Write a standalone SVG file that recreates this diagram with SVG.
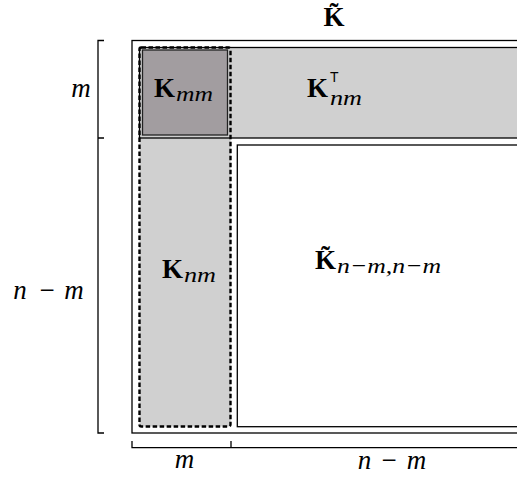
<svg xmlns="http://www.w3.org/2000/svg" width="517" height="477" viewBox="0 0 517 477">
<style>
.ln{fill:none;stroke:#000;stroke-width:1.3}
.K{font-family:"Liberation Serif","DejaVu Serif",serif;font-weight:bold;font-size:27px}
.mi{font-family:"Liberation Serif","DejaVu Serif",serif;font-style:italic;font-weight:normal;font-size:27px}
.op{font-family:"Liberation Serif","DejaVu Serif",serif;font-style:normal;font-weight:normal;font-size:27px}
.sub{font-family:"Liberation Serif","DejaVu Serif",serif;font-style:italic;font-weight:normal;font-size:22px}
.sup{font-family:"Liberation Sans","DejaVu Sans",sans-serif;font-weight:normal;font-size:14px}
text{fill:#000}
</style>
<rect width="517" height="477" fill="#fff"/>
<g id="matrix">
<rect class="ln" x="132" y="40.5" width="400" height="392.5"/>
</g>
<g id="Knm-band">
<rect x="139.5" y="47.5" width="91" height="379" rx="2" fill="#d0d0d0"/>
</g>
<g id="KnmT-band">
<rect x="139.5" y="47.5" width="400" height="90.5" fill="#d0d0d0" stroke="#000" stroke-width="1.3"/>
</g>
<g id="Kmm">
<rect x="142.5" y="50" width="85" height="85" fill="#a29da0" stroke="#222" stroke-width="1.3"/>
<text class="K" x="154" y="97">K</text>
<text class="sub" x="176" y="101" textLength="37" lengthAdjust="spacingAndGlyphs">mm</text>
</g>
<g id="Knm-outline">
<rect x="139.5" y="47.5" width="91" height="379" rx="2" fill="none" stroke="#000" stroke-width="2.4" stroke-dasharray="4.5 2.5"/>
<text class="K" x="162" y="278">K</text>
<text class="sub" x="184" y="282" textLength="32" lengthAdjust="spacingAndGlyphs">nm</text>
</g>
<g id="KnmT">
<text class="K" x="307" y="97">K</text>
<text class="sup" x="330" y="82">T</text>
<text class="sub" x="330" y="105" textLength="32" lengthAdjust="spacingAndGlyphs">nm</text>
</g>
<g id="Kres">
<rect class="ln" x="237.3" y="145" width="300" height="281.7" fill="#fff"/>
<text class="K" x="315" y="269">K&#x0303;</text>
<text class="sub" x="337" y="273" textLength="104" lengthAdjust="spacingAndGlyphs">n−m,n−m</text>
</g>
<g id="title">
<text class="K" x="334" y="26" text-anchor="middle">K&#x0303;</text>
</g>
<g id="connectors">
<path class="ln" d="M104 40.5H98V433H104M98 138H104"/>
<path class="ln" d="M132 441V447.7H517M231 441V447.7"/>
</g>
<g id="labels">
<text class="mi" x="81" y="97" text-anchor="middle">m</text>
<text x="0" y="299"><tspan class="mi" x="20" text-anchor="middle">n</tspan><tspan class="op" x="47" text-anchor="middle">−</tspan><tspan class="mi" x="74" text-anchor="middle">m</tspan></text>
<text class="mi" x="184.5" y="468" text-anchor="middle">m</text>
<text x="0" y="469"><tspan class="mi" x="364.5" text-anchor="middle">n</tspan><tspan class="op" x="389" text-anchor="middle">−</tspan><tspan class="mi" x="416.5" text-anchor="middle">m</tspan></text>
</g>
</svg>
